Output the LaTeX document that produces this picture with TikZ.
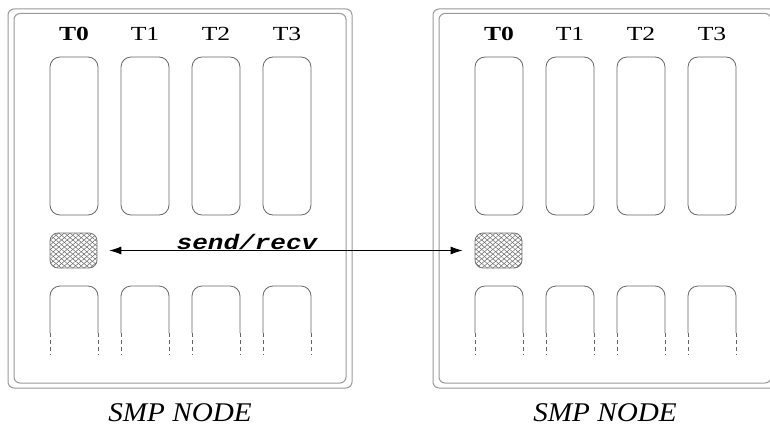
\documentclass[tikz,border=0pt]{standalone}
\usepackage{fontspec}
\setmainfont{Liberation Serif}
\newfontfamily\codefont[BoldFeatures={FakeBold=1.2}]{Liberation Mono}
\usetikzlibrary{patterns.meta,arrows.meta}

\tikzset{
  frame/.style={draw=black!40, line width=1pt, rounded corners=6pt},
  threadbox/.style={draw=black!60, line width=0.8pt, rounded corners=10pt,
    minimum width=48pt, minimum height=158pt, inner sep=0pt},
  stack/.style={draw=black!60, line width=0.8pt, rounded corners=10pt},
  stackdash/.style={draw=black!60, line width=0.8pt, dash pattern=on 4pt off 3pt},
  hatchbox/.style={draw=black!55, line width=0.8pt, rounded corners=8pt,
    minimum width=47pt, minimum height=35pt, inner sep=0pt,
    preaction={pattern={Lines[angle=40,distance=3.6pt,line width=0.5pt]},pattern color=black!60},
    pattern={Lines[angle=-40,distance=3.6pt,line width=0.5pt]}, pattern color=black!60},
  tlabel/.style={font=\fontsize{20}{21}\selectfont, inner sep=0pt},
  caption/.style={font=\fontsize{27}{28}\selectfont\itshape, inner sep=0pt},
  msg/.style={font=\fontsize{21}{22}\selectfont\codefont\bfseries\itshape, inner sep=0pt},
  link/.style={black, line width=0.8pt, {Latex[length=12pt,width=8pt]}-{Latex[length=12pt,width=8pt]}}
}

\begin{document}
\begin{tikzpicture}[x=1pt,y=-1pt]
\useasboundingbox (0,0) rectangle (770,428);
\clip (0,0) rectangle (770,428);

% two SMP nodes, each with a double frame
\foreach \ox/\nm in {0/L,425/R}{
  \begin{scope}[xshift=\ox pt]
    \draw[frame] (8,9) rectangle (352,388);
    \draw[frame] (14,13.5) rectangle (346,383);
    \foreach \i in {0,1,2,3}{
      \pgfmathsetmacro{\cx}{74+71*\i}
      % thread label
      \ifnum\i=0
        \node[tlabel] (t\i\nm) at (\cx,33.5) {\scalebox{1.28}[1]{\textbf{T0}}};
      \else
        \node[tlabel] (t\i\nm) at (\cx,33.5) {\scalebox{1.28}[1]{T\i}};
      \fi
      % thread body
      \node[threadbox] (b\i\nm) at (\cx,136) {};
      % stack below
      \draw[stack] (\cx-24,333) -- (\cx-24,286) -- (\cx+24,286) -- (\cx+24,333);
      \draw[stackdash] (\cx-24,333) -- (\cx-24,355);
      \draw[stackdash] (\cx+24,333) -- (\cx+24,355);
    }
    \node[hatchbox] (buf\nm) at (73.5,250.5) {};
    \node[caption] (cap\nm) at (180,413) {\scalebox{1.08}[1]{SMP NODE}};
  \end{scope}
}

% message exchange between the two master threads
\draw[link, shorten <=12pt, shorten >=12pt] (bufL.east) -- (bufR.west);
\node[msg, anchor=base] (msg) at (247,249) {\scalebox{1.24}[1]{send/recv}};
\end{tikzpicture}
\end{document}
